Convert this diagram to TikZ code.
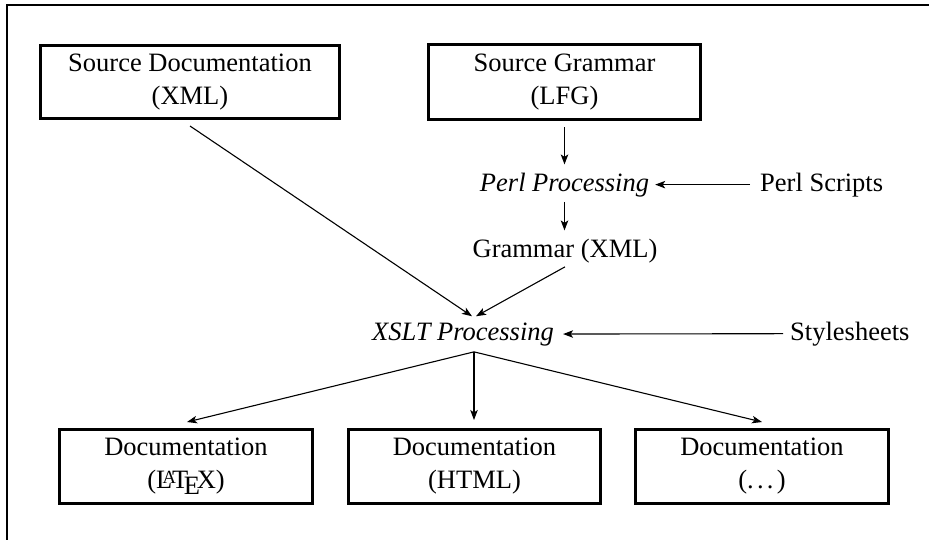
\documentclass[tikz,border=0pt]{standalone}
\usepackage{fontspec}
\setmainfont{Liberation Serif}
\usetikzlibrary{arrows.meta}
\newcommand{\spaceddots}{.\kern\fontdimen3\font.\kern\fontdimen3\font.\kern\fontdimen3\font}
\begin{document}
\begin{tikzpicture}[x=1pt,y=-1pt,
  every node/.style={font=\fontsize{26.5}{33}\selectfont},
  boxnode/.style={draw,line width=3pt,align=center,inner sep=0pt},
  txt/.style={inner sep=0pt,anchor=base},
  arr/.style={line width=1.1pt,-{Stealth[length=10pt,width=7.5pt,inset=2.5pt]}},
  frame/.style={line width=2.5pt}]
\useasboundingbox (0,0) rectangle (929,539);
\draw[frame] (7,540) -- (7,5) -- (930,5);
% boxes
\node[boxnode,minimum width=299pt,minimum height=73pt] (srcdoc) at (190,82) {Source Documentation\\(XML)};
\node[boxnode,minimum width=272pt,minimum height=75pt] (srcgram) at (564.5,82) {Source Grammar\\(LFG)};
\node[boxnode,minimum width=253pt,minimum height=74pt] (doclatex) at (186,466.5) {Documentation\\(\LaTeX)};
\node[boxnode,minimum width=252pt,minimum height=74pt] (dochtml) at (474.5,466.5) {Documentation\\(HTML)};
\node[boxnode,minimum width=253pt,minimum height=74pt] (docdots) at (762,466.5) {Documentation\\(\spaceddots)};
% text nodes
\node[txt] (perl) at (564.5,191) {\itshape Perl Processing};
\node[txt,anchor=base west] (scripts) at (760,191) {Perl Scripts};
\node[txt] (gram) at (565,257) {Grammar (XML)};
\node[txt] (xslt) at (463,340) {\itshape XSLT Processing};
\node[txt,anchor=base west] (styles) at (790,340) {Stylesheets};
% connectors
\draw[arr,shorten <=6pt,shorten >=8pt] (srcgram.south) -- (perl.north -| srcgram.south);
\draw[arr,shorten <=5pt,shorten >=8pt] (perl.south -| srcgram.south) -- (gram.north -| srcgram.south);
\draw[arr,shorten <=10pt,shorten >=6pt] (scripts.west) -- (perl.east);
\draw[arr,shorten <=7pt,shorten >=9pt] (styles.west) -- (xslt.east);
\draw[arr] ([yshift=-6pt]srcdoc.south) -- ([xshift=9pt,yshift=6pt]xslt.north);
\draw[arr] ([yshift=-4pt]gram.south) -- ([xshift=13pt,yshift=6pt]xslt.north);
\coordinate (xo) at ([xshift=11pt,yshift=-6pt]xslt.south);
\draw[arr] (xo) -- ([xshift=1pt,yshift=6pt]doclatex.north);
\draw[arr] (xo) -- ([yshift=8pt]dochtml.north -| xo);
\draw[arr] (xo) -- ([yshift=6pt]docdots.north);
\end{tikzpicture}
\end{document}
